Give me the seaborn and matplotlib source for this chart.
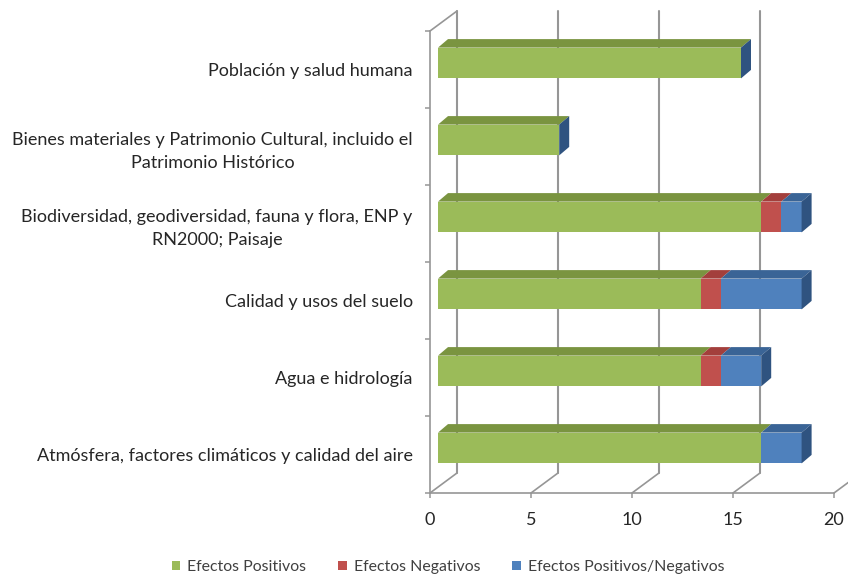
import matplotlib
matplotlib.use("Agg")
import matplotlib.pyplot as plt
from matplotlib.ticker import FixedLocator
from matplotlib.transforms import ScaledTranslation
import numpy as np
import pandas as pd
import seaborn as sns

categories = [
    "Población y salud humana",
    "Bienes materiales y Patrimonio Cultural, incluido el\nPatrimonio Histórico",
    "Biodiversidad, geodiversidad, fauna y flora, ENP y\nRN2000; Paisaje",
    "Calidad y usos del suelo",
    "Agua e hidrología",
    "Atmósfera, factores climáticos y calidad del aire",
]
positivos = [15, 6, 16, 13, 13, 16]
negativos = [0, 0, 1, 1, 1, 0]
mixtos = [0, 0, 1, 4, 2, 2]
series_names = ["Efectos Positivos", "Efectos Negativos", "Efectos Positivos/Negativos"]
front_colors = ["#9BBB59", "#C0504D", "#4F81BD"]
top_colors = ["#7A9440", "#A33F3C", "#3A6496"]
cap_color = "#2F5380"
xticks = [0, 5, 10, 15, 20]

sns.set_theme(style="white")
plt.rcParams["font.family"] = ["Lato", "DejaVu Sans"]

W, H = 848, 577
fig = plt.figure(figsize=(W / 100, H / 100), dpi=100)
ax = fig.add_axes([430 / W, (H - 493) / H, 404 / W, 462 / H])

df = pd.DataFrame({"cat": categories, "p": positivos, "n": negativos, "m": mixtos})
df["c1"] = df["p"]
df["c2"] = df["p"] + df["n"]
df["c3"] = df["c2"] + df["m"]

# painted from the longest cumulative series down, so the stacks show through
for col, name, color in zip(["c3", "c2", "c1"], series_names[::-1], front_colors[::-1]):
    sns.barplot(data=df, y="cat", x=col, order=categories, color=color, saturation=1,
                width=0.4, orient="h", label=name, ax=ax, zorder=3, linewidth=0)

handles, labels = ax.get_legend_handles_labels()
handles, labels = handles[::-1], labels[::-1]
if ax.get_legend() is not None:
    ax.get_legend().remove()

ax.set_xlim(0, 20)
ax.set_ylim(5.5, -0.5)
ax.set_xlabel("")
ax.set_ylabel("")

px = 1 / 20.2      # one pixel in x data units
py = 1 / 77.0      # one pixel in category units
bar_tr = ax.transData + ScaledTranslation(8 / 100, 6.5 / 100, fig.dpi_scale_trans)
for p in ax.patches:
    p.set_transform(bar_tr)
    p.set_clip_on(False)

# bar depth faces
ddx, ddy = 10 * px, 8.5 * py
half = 0.2
for i in range(len(categories)):
    edges = [0, df.c1[i], df.c2[i], df.c3[i]]
    for k in range(3):
        l, r = edges[k], edges[k + 1]
        if r > l:
            ax.fill([l, r, r + ddx, l + ddx], [i - half, i - half, i - half - ddy, i - half - ddy],
                    color=top_colors[k], lw=0, zorder=4, transform=bar_tr, clip_on=False)
    r = edges[-1]
    ax.fill([r, r + ddx, r + ddx, r], [i - half, i - half - ddy, i + half - ddy, i + half],
            color=cap_color, lw=0, zorder=4, transform=bar_tr, clip_on=False)

# back wall and floor
grid = "#969696"
wx, wy = 27 * px, 20 * py
for v in xticks:
    ax.plot([v, v + wx], [5.5, 5.5 - wy], color=grid, lw=1.2, zorder=1, clip_on=False)
    ax.plot([v + wx, v + wx], [5.5 - wy, -0.5 - wy], color=grid, lw=1.5, zorder=1, clip_on=False)
ax.plot([0, wx], [-0.5, -0.5 - wy], color=grid, lw=1.2, zorder=1, clip_on=False)

for s in ["top", "right"]:
    ax.spines[s].set_visible(False)
for s in ["left", "bottom"]:
    ax.spines[s].set_color(grid)
    ax.spines[s].set_linewidth(1.2)

ax.set_xticks(xticks)
ax.yaxis.set_minor_locator(FixedLocator(np.arange(-0.5, 6, 1)))
ax.tick_params(axis="y", which="major", length=0, pad=12.5, labelsize=13, labelcolor="#262626")
ax.tick_params(axis="y", which="minor", left=True, length=3.6, width=1.1, color=grid)
ax.tick_params(axis="x", bottom=True, length=3.6, width=1.1, color=grid, pad=10,
               labelsize=13, labelcolor="#262626")
for lab in ax.get_yticklabels():
    lab.set_multialignment("center")
    lab.set_linespacing(1.5)

fig.legend(handles, labels, loc="center", bbox_to_anchor=(448 / W, (H - 567) / H), ncol=3,
           frameon=False, fontsize=11.4, labelcolor="#404040", handlelength=0.55, handleheight=0.55,
           handletextpad=0.45, columnspacing=2.0, borderpad=0)

fig.savefig("out.png", dpi=100, facecolor="white")
